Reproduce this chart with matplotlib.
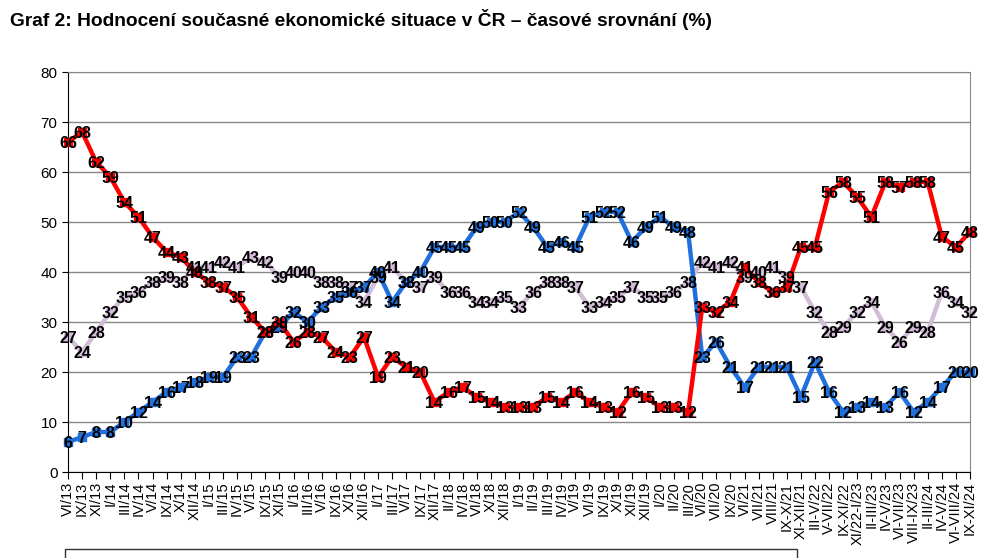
import matplotlib
matplotlib.use("Agg")
import matplotlib.pyplot as plt

plt.rcParams['font.family'] = ['Liberation Sans', 'DejaVu Sans']

# období šetření (osa x)
periods = ["VI/13", "IX/13", "XI/13", "I/14", "III/14", "IV/14", "V/14", "IX/14", "X/14", "XII/14",
           "I/15", "III/15", "IV/15", "V/15", "IX/15", "XI/15", "I/16", "III/16", "V/16", "IX/16",
           "X/16", "XII/16", "I/17", "III/17", "V/17", "IX/17", "XII/17", "II/18", "IV/18", "VI/18",
           "X/18", "XII/18", "I/19", "II/19", "III/19", "IV/19", "V/19", "VI/19", "IX/19", "X/19",
           "XI/19", "XII/19", "I/20", "II/20", "III/20", "VI/20", "VII/20", "IX/20", "VI/21", "VII/21",
           "VIII/21", "IX-X/21", "XI-XII/21", "III-V/22", "V-VII/22", "IX-XI/22", "XI/22-I/23",
           "II-III/23", "IV-V/23", "VI-VII/23", "VIII-IX/23", "II-III/24", "IV-V/24", "VI-VIII/24",
           "IX-XI/24"]

good = [6, 7, 8, 8, 10, 12, 14, 16, 17, 18, 19, 19, 23,
        23, 28, 29, 32, 30, 33, 35, 36, 37, 40, 34, 38, 40,
        45, 45, 45, 49, 50, 50, 52, 49, 45, 46, 45, 51,
        52, 52, 46, 49, 51, 49, 48,
        23, 26, 21, 17, 21, 21, 21,
        15, 22, 16, 12, 13, 14, 13, 16, 12, 14, 17, 20, 20]

neutral = [27, 24, 28, 32, 35, 36, 38, 39, 38, 41, 41, 42, 41,
           43, 42, 39, 40, 40, 38, 38, 37, 34, 39, 41, 38, 37,
           39, 36, 36, 34, 34, 35, 33, 36, 38, 38, 37, 33,
           34, 35, 37, 35, 35, 36, 38,
           42, 41, 42, 39, 40, 41, 39,
           37, 32, 28, 29, 32, 34, 29, 26, 29, 28, 36, 34, 32]

bad = [66, 68, 62, 59, 54, 51, 47, 44, 43, 40, 38, 37, 35,
       31, 28, 30, 26, 28, 27, 24, 23, 27, 19, 23, 21, 20,
       14, 16, 17, 15, 14, 13, 13, 13, 15, 14, 16, 14,
       13, 12, 16, 15, 13, 13, 12,
       33, 32, 34, 41, 38, 36, 37,
       45, 45, 56, 58, 55, 51, 58, 57, 58, 58, 47, 45, 48]

names = ["dobrá", "ani dobrá, ani špatná", "špatná"]
colors = ["#1f6fdc", "#d2bcd8", "#ff0000"]

W, H = 991, 558
fig = plt.figure(figsize=(W / 100, H / 100), dpi=100)
ax = fig.add_axes([68 / W, 1 - 472 / H, (970 - 68) / W, 400 / H])

x = list(range(len(periods)))
for vals, col, name, z in zip([good, neutral, bad], colors, names, [3, 2, 4]):
    ax.plot(x, vals, color=col, lw=3.2, marker='s', ms=6, mfc=col, mec=col,
            label=name, zorder=z, clip_on=False)
    for xi, v in zip(x, vals):
        ax.text(xi, v, str(v), ha='center', va='center_baseline', fontsize=11.5,
                fontweight='bold', color='black', zorder=10)

ax.set_xlim(0, len(periods) - 1)
ax.set_ylim(0, 80)
ax.set_yticks(range(0, 81, 10))
ax.set_xticks(x)
ax.set_xticklabels(periods, rotation=90, fontsize=10.5)
ax.tick_params(axis='y', labelsize=11, length=4, direction='out')
ax.tick_params(axis='x', length=5, direction='out', pad=2)
ax.grid(axis='y', color='#888888', lw=1)
ax.set_axisbelow(True)
for s in ['top', 'right']:
    ax.spines[s].set_color('#888888')
for s in ['left', 'bottom']:
    ax.spines[s].set_color('black')

fig.text(10 / W, 1 - 20 / H,
         "Graf 2: Hodnocení současné ekonomické situace v ČR – časové srovnání (%)",
         fontsize=13.8, fontweight='bold', va='center', ha='left')

leg = fig.legend(loc='upper left', bbox_to_anchor=(65 / W, 1 - 549 / H - 0.1, (797 - 65) / W, 0.1),
                 mode='expand', ncol=3, frameon=True, fancybox=False, edgecolor='black',
                 fontsize=10, borderpad=1.2, borderaxespad=0)
leg.get_frame().set_linewidth(1)

fig.savefig("out.png", dpi=100)
